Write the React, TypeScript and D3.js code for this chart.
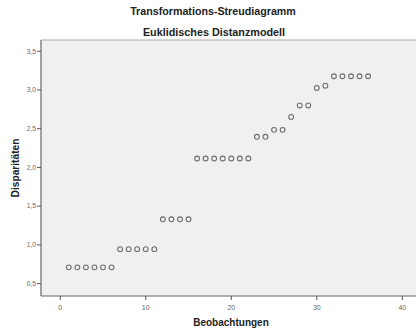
import React from "react";
import * as d3 from "d3";

// Observation index and transformed disparity for each observation
const observations = d3.range(1, 37);
const disparities = [
  0.71, 0.71, 0.71, 0.71, 0.71, 0.71,
  0.945, 0.945, 0.945, 0.945, 0.945,
  1.33, 1.33, 1.33, 1.33,
  2.115, 2.115, 2.115, 2.115, 2.115, 2.115, 2.115,
  2.395, 2.395, 2.485, 2.485, 2.652, 2.8, 2.8, 3.026, 3.055,
  3.177, 3.177, 3.177, 3.177, 3.177,
];
const xTicks = [0, 10, 20, 30, 40];
const yTicks = [0.5, 1.0, 1.5, 2.0, 2.5, 3.0, 3.5];

const title = "Transformations-Streudiagramm";
const subtitle = "Euklidisches Distanzmodell";
const xTitle = "Beobachtungen";
const yTitle = "Disparitäten";

const W = 416;
const H = 330;
const frame = { left: 41, right: 416, top: 40, bottom: 296 };

const x = d3.scaleLinear().domain([-2.25, 41.6]).range([frame.left, frame.right]);
const y = d3.scaleLinear().domain([0.34, 3.645]).range([frame.bottom, frame.top]);

const fmt = (v: number) => d3.format(".1f")(v).replace(".", ",");
const font = "Arial, 'Liberation Sans', sans-serif";

export default function App() {
  const data = observations.map((o, i) => ({ o, d: disparities[i] }));
  return (
    <svg
      width={W}
      height={H}
      style={{ position: "absolute", left: 0, top: 0, background: "#fff" }}
      fontFamily={font}
    >
      <text x={213} y={15} textAnchor="middle" fontSize={10.7} fontWeight="bold" fill="#222">
        {title}
      </text>
      <text x={214} y={36} textAnchor="middle" fontSize={10.8} fontWeight="bold" fill="#222">
        {subtitle}
      </text>

      <rect
        x={frame.left}
        y={frame.top}
        width={frame.right - frame.left}
        height={frame.bottom - frame.top}
        fill="#f0f0f0"
      />
      <line x1={frame.left} x2={frame.right} y1={frame.top} y2={frame.top} stroke="#aaa" strokeWidth={1} />
      <line x1={frame.left} x2={frame.left} y1={frame.top} y2={frame.bottom} stroke="#666" strokeWidth={1.2} />
      <line x1={frame.left} x2={frame.right} y1={frame.bottom} y2={frame.bottom} stroke="#666" strokeWidth={1.2} />

      {yTicks.map((t) => (
        <g key={"y" + t}>
          <line x1={frame.left - 4} x2={frame.left} y1={y(t)} y2={y(t)} stroke="#555" strokeWidth={1} />
          <text x={frame.left - 5} y={y(t) + 2.3} textAnchor="end" fontSize={6.6} fill="#666">
            {fmt(t)}
          </text>
        </g>
      ))}
      {xTicks.map((t) => (
        <g key={"x" + t}>
          <line x1={x(t)} x2={x(t)} y1={frame.bottom} y2={frame.bottom + 4} stroke="#555" strokeWidth={1} />
          <text x={x(t)} y={frame.bottom + 14} textAnchor="middle" fontSize={7} fill="#666">
            {t}
          </text>
        </g>
      ))}

      <text x={231} y={326} textAnchor="middle" fontSize={10} fontWeight="bold" fill="#222">
        {xTitle}
      </text>
      <text
        transform={`translate(19,168) rotate(-90)`}
        textAnchor="middle"
        fontSize={10.2}
        fontWeight="bold"
        fill="#222"
      >
        {yTitle}
      </text>

      {data.map((p) => (
        <circle
          key={p.o}
          cx={x(p.o)}
          cy={y(p.d)}
          r={2.4}
          fill="#f0f0f0"
          stroke="#6e6e6e"
          strokeWidth={1.1}
        />
      ))}
    </svg>
  );
}
